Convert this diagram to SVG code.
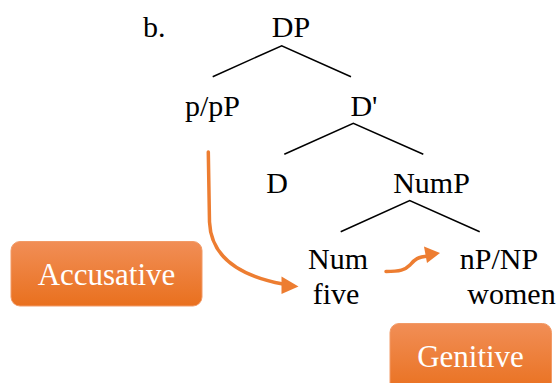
<svg xmlns="http://www.w3.org/2000/svg" width="560" height="383" viewBox="0 0 560 383">
<style>
text{font-family:"Liberation Serif","Noto Serif",serif}
.t{font-size:30px;fill:#000;text-anchor:middle}
.b{font-size:31px;fill:#fff;text-anchor:middle}
.e{stroke:#000;stroke-width:1.5;fill:none}
.a{stroke:#ED7D31;stroke-width:3.5;fill:none;stroke-linecap:round}
.h{fill:#ED7D31}
</style>
<defs>
<linearGradient id="g" x1="0" y1="0" x2="0" y2="1">
<stop offset="0" stop-color="#F18E56"/>
<stop offset="1" stop-color="#E9701E"/>
</linearGradient>
</defs>
<rect width="560" height="383" fill="#fff"/>
<text class="t" x="143" y="37" style="text-anchor:start">b.</text>
<g id="DP"><text class="t" x="291" y="37">DP</text></g>
<g id="pP"><text class="t" x="212.5" y="116">p/pP</text></g>
<g id="Dbar"><text class="t" x="364" y="116">D'</text></g>
<g id="D"><text class="t" x="277" y="193">D</text></g>
<g id="NumP"><text class="t" x="431.5" y="193">NumP</text></g>
<g id="Num"><text class="t" x="338" y="269">Num</text><text class="t" x="336" y="304">five</text></g>
<g id="nP"><text class="t" x="499" y="269">nP/NP</text><text class="t" x="511.5" y="304">women</text></g>
<g id="Accusative"><rect x="11" y="241.5" width="191" height="64.5" rx="9" fill="url(#g)" stroke="#F29A66" stroke-width="1"/><text class="b" x="106.5" y="285">Accusative</text></g>
<g id="Genitive"><rect x="390" y="323.5" width="161.5" height="70" rx="9" fill="url(#g)" stroke="#F29A66" stroke-width="1"/><text class="b" x="470.5" y="367">Genitive</text></g>
<g id="connectors">
<path class="e" d="M212.7,76.7 L281.7,45.7 L351,76.7"/>
<path class="e" d="M284.3,154.3 L353.3,123.3 L423.3,154.3"/>
<path class="e" d="M340.7,231.7 L409.7,200.5 L479.7,231.7"/>
<path class="a" d="M208.3,152 L209.5,222 C211,258 240,276 283,284"/>
<polygon class="h" points="298.5,286.5 281.5,276.5 281.5,294"/>
<path class="a" d="M386,271.5 C400,271.5 405,270 410,265 C415,259 418,257 428,256"/>
<polygon class="h" points="440,253 424,246.5 427,263"/>
</g>
</svg>
